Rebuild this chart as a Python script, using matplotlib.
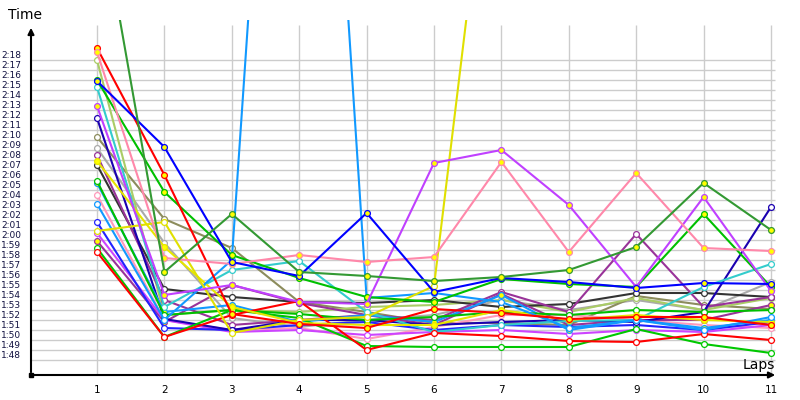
import matplotlib
matplotlib.use("Agg")
import matplotlib.pyplot as plt

laps = list(range(1, 12))
time_ticks = list(range(108, 139))  # 1:48 .. 2:18

# lap times in seconds
red_a = [139.2, 126.5, 112.6, 111.6, 111.2, 113.1, 112.7, 112.1, 112.3, 112.3, 111.5]
red_b = [118.8, 110.3, 112.5, 113.9, 109.0, 110.7, 110.4, 109.9, 109.8, 110.6, 110.0]
pink_a = [138.8, 118.2, 117.6, 118.5, 117.8, 118.3, 127.8, 118.8, 126.7, 119.2, 118.9]
pink_b = [124.5, 112.0, 111.0, 111.2, 110.1, 111.3, 112.5, 112.5, 112.0, 111.5, 111.2]
dark_green = [155.0, 116.8, 122.6, 116.8, 116.4, 115.9, 116.3, 117.0, 119.3, 125.7, 121.0]
green_a = [136.0, 124.8, 118.5, 116.2, 114.3, 113.8, 116.1, 115.6, 115.3, 122.6, 115.3]
green_b = [119.2, 110.3, 113.0, 112.2, 109.4, 109.3, 109.3, 109.3, 111.1, 109.6, 108.7]
green_c = [125.9, 112.5, 113.0, 112.6, 112.0, 112.3, 112.8, 112.5, 113.0, 112.8, 113.0]
blue_a = [135.9, 129.3, 117.8, 116.4, 122.7, 114.8, 116.2, 115.8, 115.2, 115.7, 115.6]
blue_b = [121.8, 111.2, 111.0, 111.5, 111.8, 111.0, 111.5, 111.3, 111.5, 111.0, 111.8]
navy = [132.2, 112.1, 111.0, 112.0, 112.0, 111.5, 111.8, 112.0, 111.8, 112.8, 123.3]
cyan = [135.3, 113.3, 117.0, 117.9, 112.8, 110.8, 111.5, 111.9, 112.0, 115.3, 117.6]
sky_a = [123.6, 112.0, 118.0, 217.0, 114.2, 114.7, 113.8, 111.2, 112.0, 111.0, 112.3]
sky_b = [125.7, 112.8, 113.5, 111.8, 112.5, 111.8, 114.5, 111.0, 112.0, 111.2, 112.0]
violet_a = [133.4, 114.5, 115.5, 113.8, 113.6, 127.7, 129.0, 123.5, 115.3, 124.3, 114.9]
violet_b = [120.7, 112.0, 110.8, 111.0, 110.5, 110.8, 111.0, 110.6, 111.0, 110.8, 111.5]
purple_a = [119.9, 111.8, 115.5, 113.7, 112.5, 111.5, 114.6, 111.5, 112.0, 112.0, 113.5]
purple_b = [128.5, 114.0, 111.5, 112.0, 112.5, 112.0, 114.8, 112.8, 120.6, 113.3, 114.3]
olive = [130.3, 122.1, 119.2, 113.8, 112.8, 111.7, 111.7, 111.5, 114.4, 113.5, 113.1]
gray = [129.2, 119.7, 112.2, 111.3, 112.0, 112.5, 114.0, 113.0, 114.0, 113.0, 115.8]
dark = [127.5, 115.1, 114.3, 113.8, 113.7, 114.0, 113.3, 113.6, 114.7, 114.7, 114.3]
yellow_a = [120.9, 121.8, 110.7, 112.0, 112.3, 115.4, 171.0]
yellow_b = [127.9, 119.3, 113.3, 111.7, 111.5, 111.5, 113.0, 112.0, 112.5, 112.0, 111.8]
lime = [138.0, 112.5, 113.0, 112.8, 113.3, 113.5, 114.0, 112.8, 114.2, 113.0, 114.2]

series = [
    (gray, "#aaaaaa", "white"),
    (olive, "#8c8c5c", "white"),
    (lime, "#aacc66", "white"),
    (dark, "#333333", "white"),
    (pink_b, "#ff99bb", "white"),
    (purple_b, "#993399", "white"),
    (purple_a, "#993399", "#ffff00"),
    (violet_b, "#cc44ff", "white"),
    (blue_b, "#2222ff", "white"),
    (navy, "#1a00b0", "white"),
    (sky_b, "#1199ff", "#ffff00"),
    (cyan, "#33cccc", "white"),
    (green_c, "#00c000", "white"),
    (green_b, "#00c800", "white"),
    (red_b, "#ff0000", "white"),
    (yellow_b, "#e6e600", "#ffff00"),
    (sky_a, "#1199ff", "white"),
    (yellow_a, "#e0e000", "white"),
    (green_a, "#00c000", "#ffff00"),
    (red_a, "#ff0000", "#ffff00"),
    (violet_a, "#c040ff", "#ffff00"),
    (pink_a, "#ff88aa", "#ffff00"),
    (blue_a, "#0000ff", "#ffff00"),
    (dark_green, "#339933", "#ffff00"),
]

fig = plt.figure(figsize=(8, 4), dpi=100)
ax = fig.add_axes([31 / 800, 25 / 400, (778 - 31) / 800, 355 / 400])
x0 = 1 - (97 - 31) / 67.4
ax.set_xlim(x0, 1 + (778 - 97) / 67.4)
ax.set_ylim(106.5, 142)

ax.hlines(time_ticks, x0, 11.06, color="#cccccc", lw=1, zorder=0)
ax.vlines(laps, 106.5, 141.5, color="#cccccc", lw=1, zorder=0)

for vals, col, face in series:
    ax.plot(laps[:len(vals)], vals, color=col, lw=1.5, marker="o", ms=4.2,
            mfc=face, mec=col, mew=0.9)

for s in ax.spines.values():
    s.set_visible(False)
ax.annotate("", xy=(0, 1 - 5 / 355), xytext=(0, 0), xycoords="axes fraction",
            arrowprops=dict(arrowstyle="-|>", color="black", lw=1.5, mutation_scale=9))
ax.annotate("", xy=(1, 0), xytext=(0, 0), xycoords="axes fraction",
            arrowprops=dict(arrowstyle="-|>", color="black", lw=1.5, mutation_scale=9))
ax.plot(0, 0, marker="s", ms=3.5, color="black", transform=ax.transAxes, clip_on=False)

ax.set_yticks(time_ticks)
ax.set_yticklabels([f"{t // 60}:{t % 60:02d}" for t in time_ticks])
ax.set_xticks(laps)
ax.set_xticklabels([str(l) for l in laps])
ax.tick_params(axis="y", length=0, pad=7, labelsize=6.5, labelcolor="#101040")
ax.tick_params(axis="x", length=0, pad=7, labelsize=7.5, labelcolor="black")
for lab in ax.get_yticklabels():
    lab.set_verticalalignment("bottom")

fig.text(8 / 800, 1 - 15 / 400, "Time", fontsize=10, va="center", ha="left")
fig.text(775 / 800, 1 - 365 / 400, "Laps", fontsize=10, va="center", ha="right")

fig.savefig("out.png", dpi=100)
